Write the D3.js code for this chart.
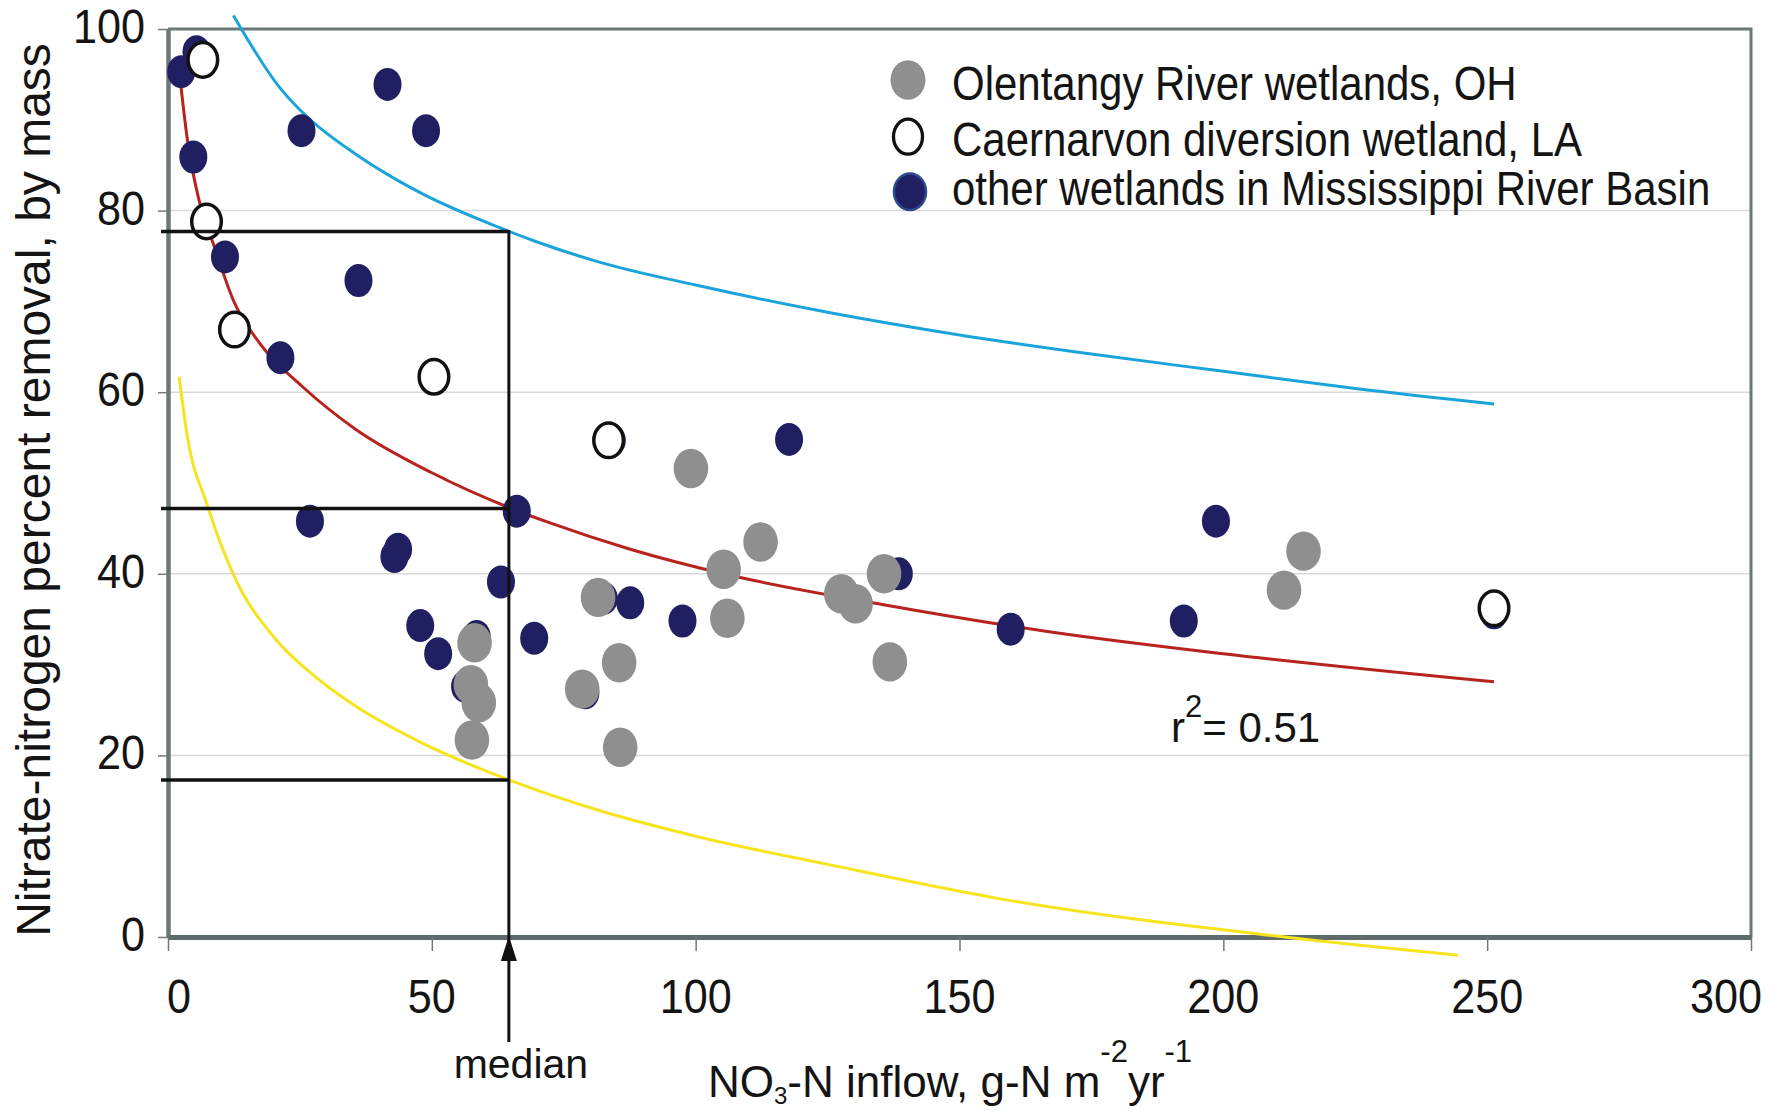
<!DOCTYPE html>
<html>
<head>
<meta charset="utf-8">
<script src="https://cdn.jsdelivr.net/npm/d3@7"></script>
<style>
  body { margin: 0; background: #fff; }
  svg { display: block; background: #fff; }
  text { font-family: "Liberation Sans", Arial, Helvetica, sans-serif; fill: #141414; }
</style>
</head>
<body>
<svg id="chart" width="1781" height="1111"></svg>
<script>
// tick values
var xTicks = [0, 50, 100, 150, 200, 250, 300];
var yTicks = [0, 20, 40, 60, 80, 100];
var gridValues = [20, 40, 60, 80];

var seriesNames = ["Olentangy River wetlands, OH",
                   "Caernarvon diversion wetland, LA",
                   "other wetlands in Mississippi River Basin"];

// other wetlands in Mississippi River Basin (dark blue)
var otherX = [2.5, 5.4, 4.8, 10.8, 21.3, 25.3, 41.6, 48.9, 36.1, 26.9, 43.6, 42.9, 66.1, 63.1, 47.8,
              51.2, 58.5, 56.3, 69.4, 79.1, 82.6, 84.1, 87.6, 97.5, 117.7, 138.5, 159.7, 192.5, 198.6, 251.3];
var otherY = [95.3, 97.5, 85.9, 74.9, 63.8, 88.8, 93.9, 88.8, 72.3, 45.8, 42.7, 41.9, 46.9, 39.1, 34.3,
              31.2, 33.1, 27.6, 32.9, 26.9, 37.3, 54.7, 36.8, 34.8, 54.8, 40.0, 33.9, 34.8, 45.8, 35.7];

// Olentangy River wetlands (gray)
var olentangyX = [58.1, 57.4, 58.9, 57.6, 78.5, 81.5, 85.5, 85.7, 99.1, 105.3, 106, 112.3, 127.6, 130.3,
                  135.7, 136.8, 211.5, 215.2];
var olentangyY = [32.4, 27.8, 25.8, 21.7, 27.3, 37.4, 30.2, 20.9, 51.6, 40.5, 35.1, 43.5, 37.8, 36.7,
                  40.0, 30.3, 38.2, 42.5];

// Caernarvon diversion wetland (open)
var caernarvonX = [6.6, 7.3, 12.6, 50.4, 83.5, 251.3];
var caernarvonY = [96.6, 78.8, 66.9, 61.7, 54.7, 36.2];

// fitted curve (red) and the two bounding curves
var fitX = [2.3, 3.7, 5.9, 8.8, 12.4, 17.5, 25.5, 35.6, 50.1, 64.6, 72.4, 87.6, 105.3, 135.6, 167.3, 200, 251.3];
var fitY = [94.5, 87.7, 81.1, 76.0, 70.1, 65.3, 60.6, 55.9, 51.1, 47.3, 45.6, 42.7, 40.0, 36.6, 33.6, 31.2, 28.1];

var upperX = [12.4, 21.1, 25.5, 35.6, 43.6, 48.7, 62.5, 69.7, 81.9, 100, 125, 150, 175, 200, 225, 251.3];
var upperY = [101.5, 93.6, 90.8, 86.2, 83.3, 81.7, 78.2, 76.6, 74.3, 71.8, 68.8, 66.3, 64.2, 62.3, 60.4, 58.7];

var lowerX = [2.1, 3.7, 7.3, 12.4, 20.4, 26.2, 35.6, 48, 64.6, 81.9, 100, 125, 157.7, 211.6, 244.5];
var lowerY = [61.7, 55.0, 47.8, 39.9, 32.8, 29.5, 25.4, 21.4, 17.3, 13.9, 11.1, 8.0, 4.2, 0, -2.0];

// median inflow and the curve values at it
var medianX = 64.6;
var medianY = [77.7, 47.2, 17.3];
var r2Value = "0.51";

var svg = d3.select("#chart");

var x = d3.scaleLinear().domain([0, 300]).range([168, 1751]);
var y = d3.scaleLinear().domain([0, 100]).range([937, 29]);

var frameColor = "#6b7878";

// gridlines
svg.append("g").selectAll("line")
    .data(gridValues)
  .enter().append("line")
    .attr("x1", x(0)).attr("x2", x(300))
    .attr("y1", function(d) { return y(d); })
    .attr("y2", function(d) { return y(d); })
    .attr("stroke", "#d9d9d9")
    .attr("stroke-width", 1.5);

// frame top / right
svg.append("path")
    .attr("d", "M" + x(0) + "," + y(100) + "H" + x(300) + "V" + y(0))
    .attr("fill", "none")
    .attr("stroke", frameColor)
    .attr("stroke-width", 3);

// axes (tick marks only, labels drawn below)
var yAxis = svg.append("g")
    .attr("transform", "translate(" + x(0) + ",0)")
    .call(d3.axisLeft(y).tickValues(yTicks).tickSize(10).tickSizeOuter(0).tickFormat(""));
var xAxis = svg.append("g")
    .attr("transform", "translate(0," + y(0) + ")")
    .call(d3.axisBottom(x).tickValues(xTicks).tickSize(14).tickSizeOuter(0).tickFormat(""));

yAxis.select(".domain").attr("stroke", frameColor).attr("stroke-width", 4.5);
xAxis.select(".domain").attr("stroke", "#5e6b6b").attr("stroke-width", 5);
svg.selectAll(".tick line").attr("stroke", "#707a7a").attr("stroke-width", 1.5);

// tick labels (slightly condensed like the original)
svg.append("g").selectAll("text")
    .data(yTicks)
  .enter().append("text")
    .attr("transform", function(d) { return "translate(145," + (y(d) + 14) + ") scale(0.9,1)"; })
    .attr("text-anchor", "end")
    .attr("font-size", 48)
    .text(function(d) { return d; });

svg.append("g").selectAll("text")
    .data(xTicks)
  .enter().append("text")
    .attr("transform", function(d, i) {
      var nudge = i === 0 ? 11 : (i === xTicks.length - 1 ? -25 : 0);
      return "translate(" + (x(d) + nudge) + ",1013) scale(0.9,1)";
    })
    .attr("text-anchor", "middle")
    .attr("font-size", 48)
    .text(function(d) { return d; });

// curves
var line = d3.line()
    .x(function(d) { return x(d[0]); })
    .y(function(d) { return y(d[1]); })
    .curve(d3.curveMonotoneX);

function pairs(xs, ys) { return xs.map(function(v, i) { return [v, ys[i]]; }); }

svg.append("path").datum(pairs(upperX, upperY))
    .attr("d", line).attr("fill", "none")
    .attr("stroke", "#1ba3dc").attr("stroke-width", 3);
svg.append("path").datum(pairs(lowerX, lowerY))
    .attr("d", line).attr("fill", "none")
    .attr("stroke", "#f6e41e").attr("stroke-width", 3);
svg.append("path").datum(pairs(fitX, fitY))
    .attr("d", line).attr("fill", "none")
    .attr("stroke", "#b8231d").attr("stroke-width", 3);

// points
svg.append("g").selectAll("ellipse")
    .data(pairs(otherX, otherY))
  .enter().append("ellipse")
    .attr("cx", function(d) { return x(d[0]); })
    .attr("cy", function(d) { return y(d[1]); })
    .attr("rx", 14).attr("ry", 16.5)
    .attr("fill", "#201f62");

svg.append("g").selectAll("ellipse")
    .data(pairs(olentangyX, olentangyY))
  .enter().append("ellipse")
    .attr("cx", function(d) { return x(d[0]); })
    .attr("cy", function(d) { return y(d[1]); })
    .attr("rx", 17.3).attr("ry", 19.7)
    .attr("fill", "#8e8f8e");

svg.append("g").selectAll("ellipse")
    .data(pairs(caernarvonX, caernarvonY))
  .enter().append("ellipse")
    .attr("cx", function(d) { return x(d[0]); })
    .attr("cy", function(d) { return y(d[1]); })
    .attr("rx", 14.8).attr("ry", 17.3)
    .attr("fill", "#fff")
    .attr("stroke", "#111").attr("stroke-width", 3.5);

// median guide lines
var mx = x(medianX);
svg.append("g").selectAll("line")
    .data(medianY)
  .enter().append("line")
    .attr("x1", x(0) - 7).attr("x2", mx)
    .attr("y1", function(d) { return y(d); })
    .attr("y2", function(d) { return y(d); })
    .attr("stroke", "#111").attr("stroke-width", 3.5);

svg.append("line")
    .attr("x1", mx).attr("x2", mx)
    .attr("y1", y(d3.max(medianY)) - 1.5).attr("y2", y(0) + 105)
    .attr("stroke", "#111").attr("stroke-width", 3);

svg.append("path")
    .attr("d", "M" + mx + "," + (y(0) - 1) + "L" + (mx - 8) + "," + (y(0) + 24) + "L" + (mx + 8) + "," + (y(0) + 24) + "Z")
    .attr("fill", "#111");

svg.append("text")
    .attr("x", mx + 12).attr("y", 1078)
    .attr("text-anchor", "middle")
    .attr("font-size", 41)
    .text("median");

// r-squared label
var r2 = svg.append("text")
    .attr("x", 1171).attr("y", 742)
    .attr("font-size", 42);
r2.append("tspan").text("r");
r2.append("tspan").attr("font-size", 31).attr("dy", -25).text("2");
r2.append("tspan").attr("dy", 25).text("= " + r2Value);

// axis titles
var xt = svg.append("text")
    .attr("x", 708).attr("y", 1097)
    .attr("font-size", 44);
xt.append("tspan").text("NO");
xt.append("tspan").attr("font-size", 24).attr("dy", 7).text("3");
xt.append("tspan").attr("dy", -7).text("-N inflow, g-N m");
xt.append("tspan").attr("font-size", 31).attr("dy", -35).text("-2");
xt.append("tspan").attr("dy", 35).text("yr");
xt.append("tspan").attr("font-size", 31).attr("dy", -35).text("-1");

svg.append("text")
    .attr("transform", "translate(50," + ((y(0) + y(100)) / 2 + 7) + ") rotate(-90)")
    .attr("text-anchor", "middle")
    .attr("font-size", 48)
    .text("Nitrate-nitrogen percent removal, by mass");

// legend
var legendY = [80, 136.7, 191.7];
var legend = svg.append("g");
legend.append("ellipse")
    .attr("cx", 908).attr("cy", legendY[0]).attr("rx", 17.5).attr("ry", 19.7)
    .attr("fill", "#8e8f8e");
legend.append("ellipse")
    .attr("cx", 908).attr("cy", legendY[1]).attr("rx", 14.5).attr("ry", 17.5)
    .attr("fill", "#fff").attr("stroke", "#111").attr("stroke-width", 3.3);
legend.append("ellipse")
    .attr("cx", 910).attr("cy", legendY[2]).attr("rx", 16).attr("ry", 18.3)
    .attr("fill", "#201f62").attr("stroke", "#2a4c8c").attr("stroke-width", 2.5);

legend.selectAll("text")
    .data(seriesNames)
  .enter().append("text")
    .attr("transform", function(d, i) { return "translate(952," + (legendY[i] + (i === 2 ? 13.5 : 19.5)) + ") scale(0.875,1)"; })
    .attr("font-size", 48)
    .text(function(d) { return d; });
</script>
</body>
</html>
